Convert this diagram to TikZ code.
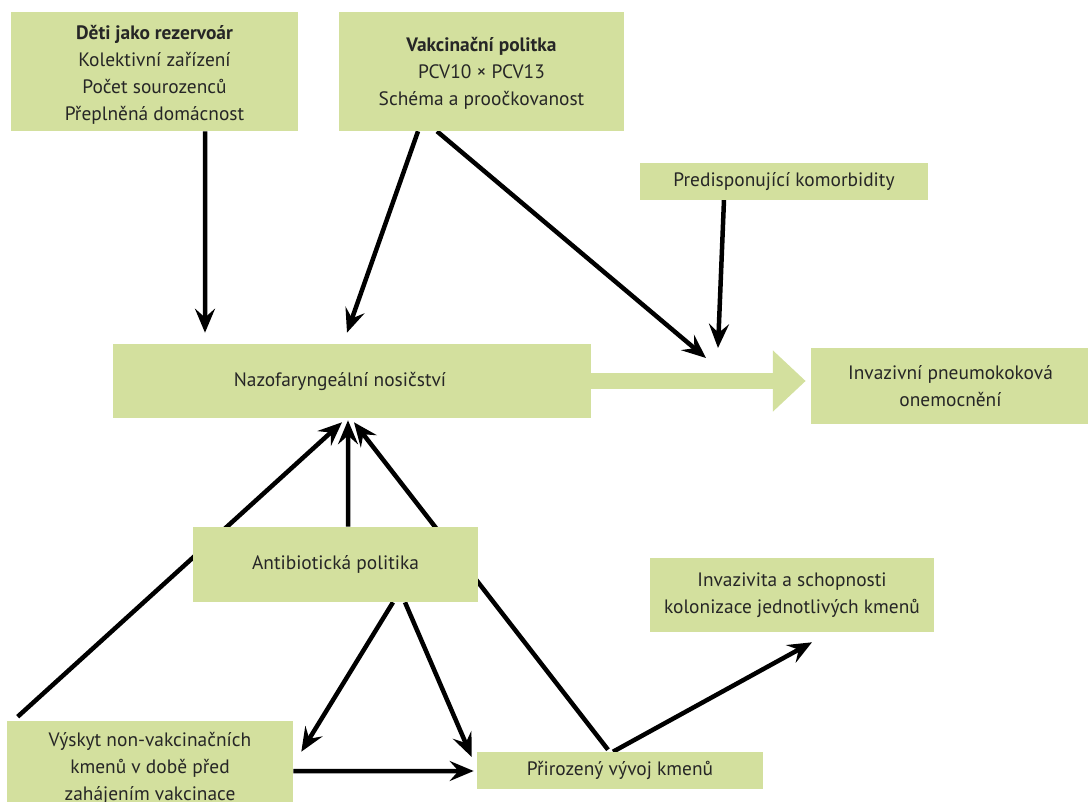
\documentclass[tikz,border=0pt]{standalone}
\usepackage{fontspec}
\setmainfont{PT Sans}
\usepackage{xcolor}
\usepackage{tikz}
\usetikzlibrary{arrows.meta, calc, backgrounds}
\definecolor{boxgreen}{RGB}{211,224,158}
\tikzstyle{factor} = [rectangle, inner sep=0pt, align=center, text=black!85, fill=boxgreen, font=\fontsize{13.8}{19.2}\selectfont]
\tikzstyle{arrow} = [line width=3.2pt, -{Stealth[length=0.6cm, width=0.5cm, inset=0.22cm]}]
\tikzstyle{flow} = [line width=0.42cm, draw=boxgreen, -{Triangle[length=0.82cm, width=1.48cm]}]

\begin{document}
\begin{tikzpicture}[x=0.025cm, y=-0.025cm]
            \useasboundingbox (0,0) rectangle (1088,802);
            % factors
            \node[factor, minimum width=7.175cm, minimum height=2.975cm] (kids) at (154.5,71.5) {\rule{0pt}{15pt}\textbf{Děti jako rezervoár}\\Kolektivní zařízení\\Počet sourozenců\\Přeplněná domácnost};
            \node[factor, minimum width=7.125cm, minimum height=2.975cm] (vac) at (481.5,71.5) {\rule{0pt}{12.5pt}\textbf{Vakcinační politka}\\PCV10 × PCV13\\Schéma a proočkovanost};
            \node[factor, minimum width=7.175cm, minimum height=0.9cm] (pred) at (784,181.5) {Predisponující komorbidity};
            \node[factor, minimum width=11.95cm, minimum height=1.85cm] (naz) at (352,381) {Nazofaryngeální nosičství\hspace{0.6cm}};
            \node[factor, minimum width=6.975cm, minimum height=1.9cm] (inv) at (950.5,386) {Invazivní pneumokoková\\onemocnění};
            \node[factor, minimum width=7.125cm, minimum height=1.875cm] (anti) at (335.5,564.5) {Antibiotická politika};
            \node[factor, minimum width=7.1cm, minimum height=1.85cm] (strains) at (792,595) {Invazivita a schopnosti\\kolonizace jednotlivých kmenů};
            \node[factor, minimum width=7.15cm, minimum height=2.35cm] (nvt) at (150,768) {Výskyt non-vakcinačních\\kmenů v době před\\zahájením vakcinace};
            \node[factor, minimum width=7.15cm, minimum height=0.925cm] (evo) at (620,770.5) {Přirozený vývoj kmenů};
            \coordinate (risk) at (712,353);

            % connectors, behind the boxes
            \begin{scope}[on background layer]
            \draw[flow, shorten >=0.125cm] (naz.east) -- (naz.east -| inv.west);
            \draw[arrow] ($(kids.south)+(50.5,0)$) -- ($(naz.north)+(-147,-11)$);
            \draw[arrow] ($(vac.south)+(-63.5,0)$) -- ($(naz.north)+(-5,-11)$);
            \draw[arrow] ($(vac.south)+(-44.5,0)$) -- ($(risk)+(-6,5)$);
            \draw[arrow] ($(pred.south)+(-60,0)$) -- ($(risk)+(6,-5)$);
            \draw[arrow] ($(nvt.north west)+(11,-4)$) -- ($(naz.south)+(-10,4)$);
            \draw[arrow] ($(anti.north)+(12.5,0)$) -- ($(naz.south)+(-4,2)$);
            \draw[arrow] ($(evo.north)+(-12,-2)$) -- ($(naz.south)+(2,4)$);
            \draw[arrow] ($(anti.south)+(57.5,0)$) -- ($(nvt.north east)+(8,31)$);
            \draw[arrow] ($(anti.south)+(69.5,0)$) -- ($(evo.west)+(-5,-13.5)$);
            \draw[arrow] ($(nvt.east)+(0,3)$) -- ($(evo.west)+(-3,0.5)$);
            \draw[arrow] ($(evo.north)+(-7,0)$) -- ($(strains.south)+(20,10)$);
            \end{scope}
        \end{tikzpicture}
\end{document}
